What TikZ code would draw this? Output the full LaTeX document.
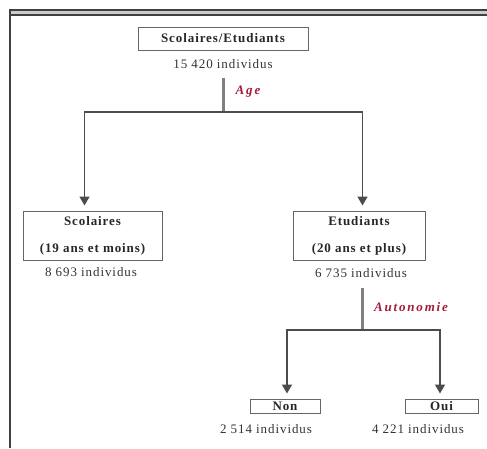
\documentclass[tikz,border=0pt]{standalone}
\usepackage{fontspec}
\setmainfont{Liberation Serif}
\newfontfamily\trboxfont[LetterSpace=7]{Liberation Serif}
\newfontfamily\trcritfont[LetterSpace=14]{Liberation Serif}
\usetikzlibrary{arrows.meta}
\definecolor{trred}{RGB}{165,25,60}
\tikzset{
  trbox/.style={draw=black!60, line width=1pt, inner sep=0pt, align=center,
                text=black!85, font=\trboxfont\bfseries\fontsize{13}{27}\selectfont},
  trcount/.style={inner sep=0pt, text=black!80, font=\trboxfont\fontsize{13}{14}\selectfont},
  trcrit/.style={inner sep=0pt, text=trred, font=\trcritfont\bfseries\itshape\fontsize{13}{14}\selectfont},
  trstem/.style={draw=black!50, line width=3pt},
  trlink/.style={draw=black!70, line width=1.6pt},
  trarrow/.style={trlink, -{Triangle[width=10pt,length=9pt]}},
  trframe/.style={draw=black!75, line width=2pt},
}

\begin{document}
\begin{tikzpicture}[x=1pt, y=-1pt]
  \useasboundingbox (0,0) rectangle (487,448);
  % frame
  \fill[black!20] (10,10) rectangle (487,15);
  \draw[trframe] (10,448) -- (10,10) -- (487,10);
  \draw[trframe] (11,15) -- (487,15);

  % level 0
  \node[trbox, minimum width=170, minimum height=23] (all) at (223,38.5) {Scolaires/Etudiants};
  \node[trcount] (allN) at (223,64) {15 420 individus};
  \node[trcrit] (age) at (248,92) {Age};
  \coordinate (split1) at (223,112);

  % level 1
  \node[trbox, minimum width=139, minimum height=49] (scol) at (92.5,235.5) {Scolaires\\(19 ans et moins)};
  \node[trbox, minimum width=132, minimum height=49] (etud) at (359,235.5) {Etudiants\\(20 ans et plus)};
  \node[trcount] (scolN) at (91,272) {8 693 individus};
  \node[trcount] (etudN) at (361,273) {6 735 individus};
  \node[trcrit] (auto) at (411,307) {Autonomie};
  \coordinate (split2) at (362.5,330);

  % level 2
  \node[trbox, minimum width=70, minimum height=14] (non) at (285,406) {Non};
  \node[trbox, minimum width=73, minimum height=14] (oui) at (441.5,406) {Oui};
  \node[trcount] (nonN) at (266,429) {2 514 individus};
  \node[trcount] (ouiN) at (418,429) {4 221 individus};

  % links
  \draw[trstem] ([yshift=-9pt]allN.south) -- (split1);
  \draw[trarrow] (split1) -| ([xshift=-8pt, yshift=5pt]scol.north);
  \draw[trarrow] (split1) -| ([xshift=3.5pt, yshift=5pt]etud.north);
  \draw[trstem] ([yshift=-10pt]split2 |- etudN.south) -- (split2);
  \draw[trarrow] (split2) -| ([xshift=2pt, yshift=5pt]non.north);
  \draw[trarrow] (split2) -| ([xshift=-1.5pt, yshift=5pt]oui.north);
\end{tikzpicture}
\end{document}
